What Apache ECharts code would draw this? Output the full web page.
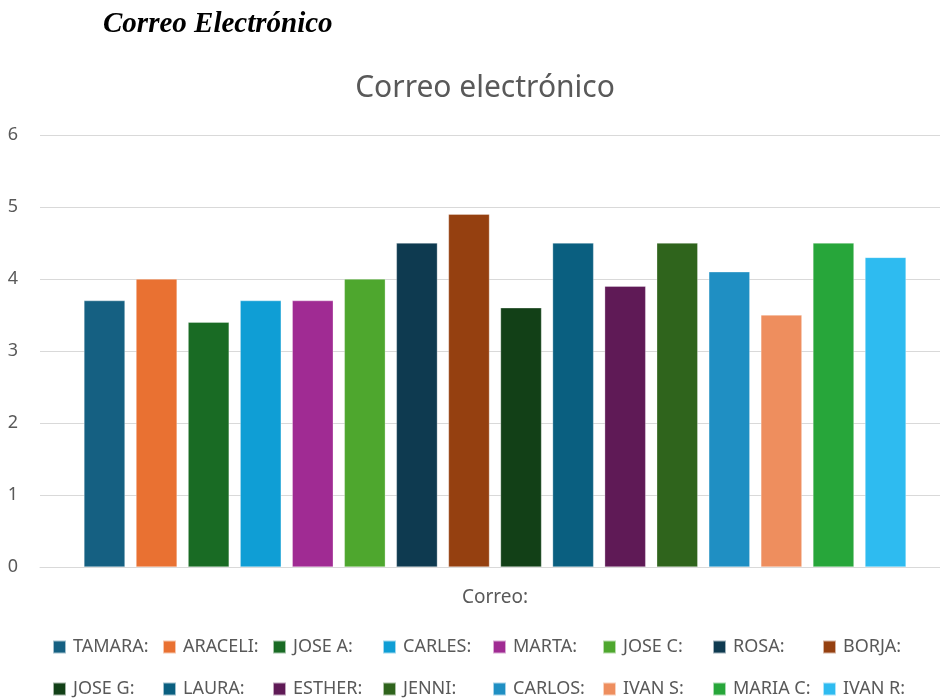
<!DOCTYPE html>
<html lang="es">
<head>
<meta charset="UTF-8">
<title>Correo electrónico</title>
<style>
  html, body { margin: 0; padding: 0; background: #fff; }
  #chart { width: 940px; height: 699px; }
</style>
</head>
<body>
<div id="chart"></div>
<script src="https://cdn.jsdelivr.net/npm/echarts@6/dist/echarts.min.js"></script>
<script>
// one category, each person is its own series
var categories = ['Correo:'];
var names = ['TAMARA:', 'ARACELI:', 'JOSE A:', 'CARLES:', 'MARTA:', 'JOSE C:', 'ROSA:', 'BORJA:',
             'JOSE G:', 'LAURA:', 'ESTHER:', 'JENNI:', 'CARLOS:', 'IVAN S:', 'MARIA C:', 'IVAN R:'];
var values = [3.7, 4.0, 3.4, 3.7, 3.7, 4.0, 4.5, 4.9, 3.6, 4.5, 3.9, 4.5, 4.1, 3.5, 4.5, 4.3];
var colors = ['#156082', '#E97132', '#196B24', '#0F9ED5', '#A02B93', '#4EA72E', '#0E3A50', '#954010',
              '#124017', '#0A5F80', '#5F1A56', '#2F641C', '#1F8FC3', '#EE8E5E', '#27A63A', '#2EBBF0'];
var yTicks = [0, 1, 2, 3, 4, 5, 6];

var textColor = '#595959';

var series = names.map(function (n, i) {
    return {
        name: n,
        type: 'bar',
        xAxisIndex: 1,
        yAxisIndex: 1,
        data: [values[i]],
        barWidth: 41,
        barGap: '27%',
        itemStyle: { color: colors[i], borderColor: 'rgba(255,255,255,0.6)', borderWidth: 0.5 }
    };
});

// one legend per name so every item sits in a fixed 110px slot, 8 per row
var legends = names.map(function (n, i) {
    return {
        data: [n],
        left: 52 + (i % 8) * 110,
        top: i < 8 ? 638 : 680,
        padding: 0,
        icon: 'rect',
        itemWidth: 13,
        itemHeight: 13,
        selectedMode: false,
        textStyle: {
            color: textColor,
            fontSize: 18,
            fontFamily: 'Noto Sans',
            padding: [0, 0, 0, 2]
        }
    };
});

var chart = echarts.init(document.getElementById('chart'));

// grid 0 carries the gridlines and y labels, grid 1 the bars (plot area sits a bit right)
var option = {
    animation: false,
    title: {
        text: 'Correo electrónico',
        left: 480,
        textAlign: 'center',
        top: 68,
        textStyle: {
            color: textColor,
            fontSize: 30,
            fontWeight: 'normal',
            fontFamily: 'Noto Sans'
        }
    },
    graphic: [{
        type: 'text',
        left: 103,
        top: 10,
        style: {
            text: 'Correo Electrónico',
            font: 'italic bold 29px "Liberation Serif"',
            fill: '#000'
        }
    }],
    legend: legends,
    grid: [
        { left: 40, right: 0, top: 135, bottom: 132 },
        { left: 50, right: 0, top: 135, bottom: 132 }
    ],
    xAxis: [{
        type: 'category',
        gridIndex: 0,
        data: categories,
        axisTick: { show: false },
        axisLabel: { show: false },
        axisLine: { show: true, lineStyle: { color: '#d9d9d9', width: 1 } }
    }, {
        type: 'category',
        gridIndex: 1,
        data: categories,
        axisTick: { show: false },
        axisLine: { show: false },
        axisLabel: {
            color: textColor,
            fontSize: 19,
            fontFamily: 'Noto Sans',
            margin: 21
        }
    }],
    yAxis: [{
        type: 'value',
        gridIndex: 0,
        min: yTicks[0],
        max: yTicks[yTicks.length - 1],
        interval: 1,
        axisLine: { show: false },
        axisTick: { show: false },
        axisLabel: {
            color: textColor,
            fontSize: 18,
            fontFamily: 'Noto Sans',
            margin: 22
        },
        splitLine: { lineStyle: { color: '#d9d9d9', width: 1 } }
    }, {
        type: 'value',
        gridIndex: 1,
        min: yTicks[0],
        max: yTicks[yTicks.length - 1],
        interval: 1,
        axisLine: { show: false },
        axisTick: { show: false },
        axisLabel: { show: false },
        splitLine: { show: false }
    }],
    series: series
};

chart.setOption(option);
</script>
</body>
</html>
